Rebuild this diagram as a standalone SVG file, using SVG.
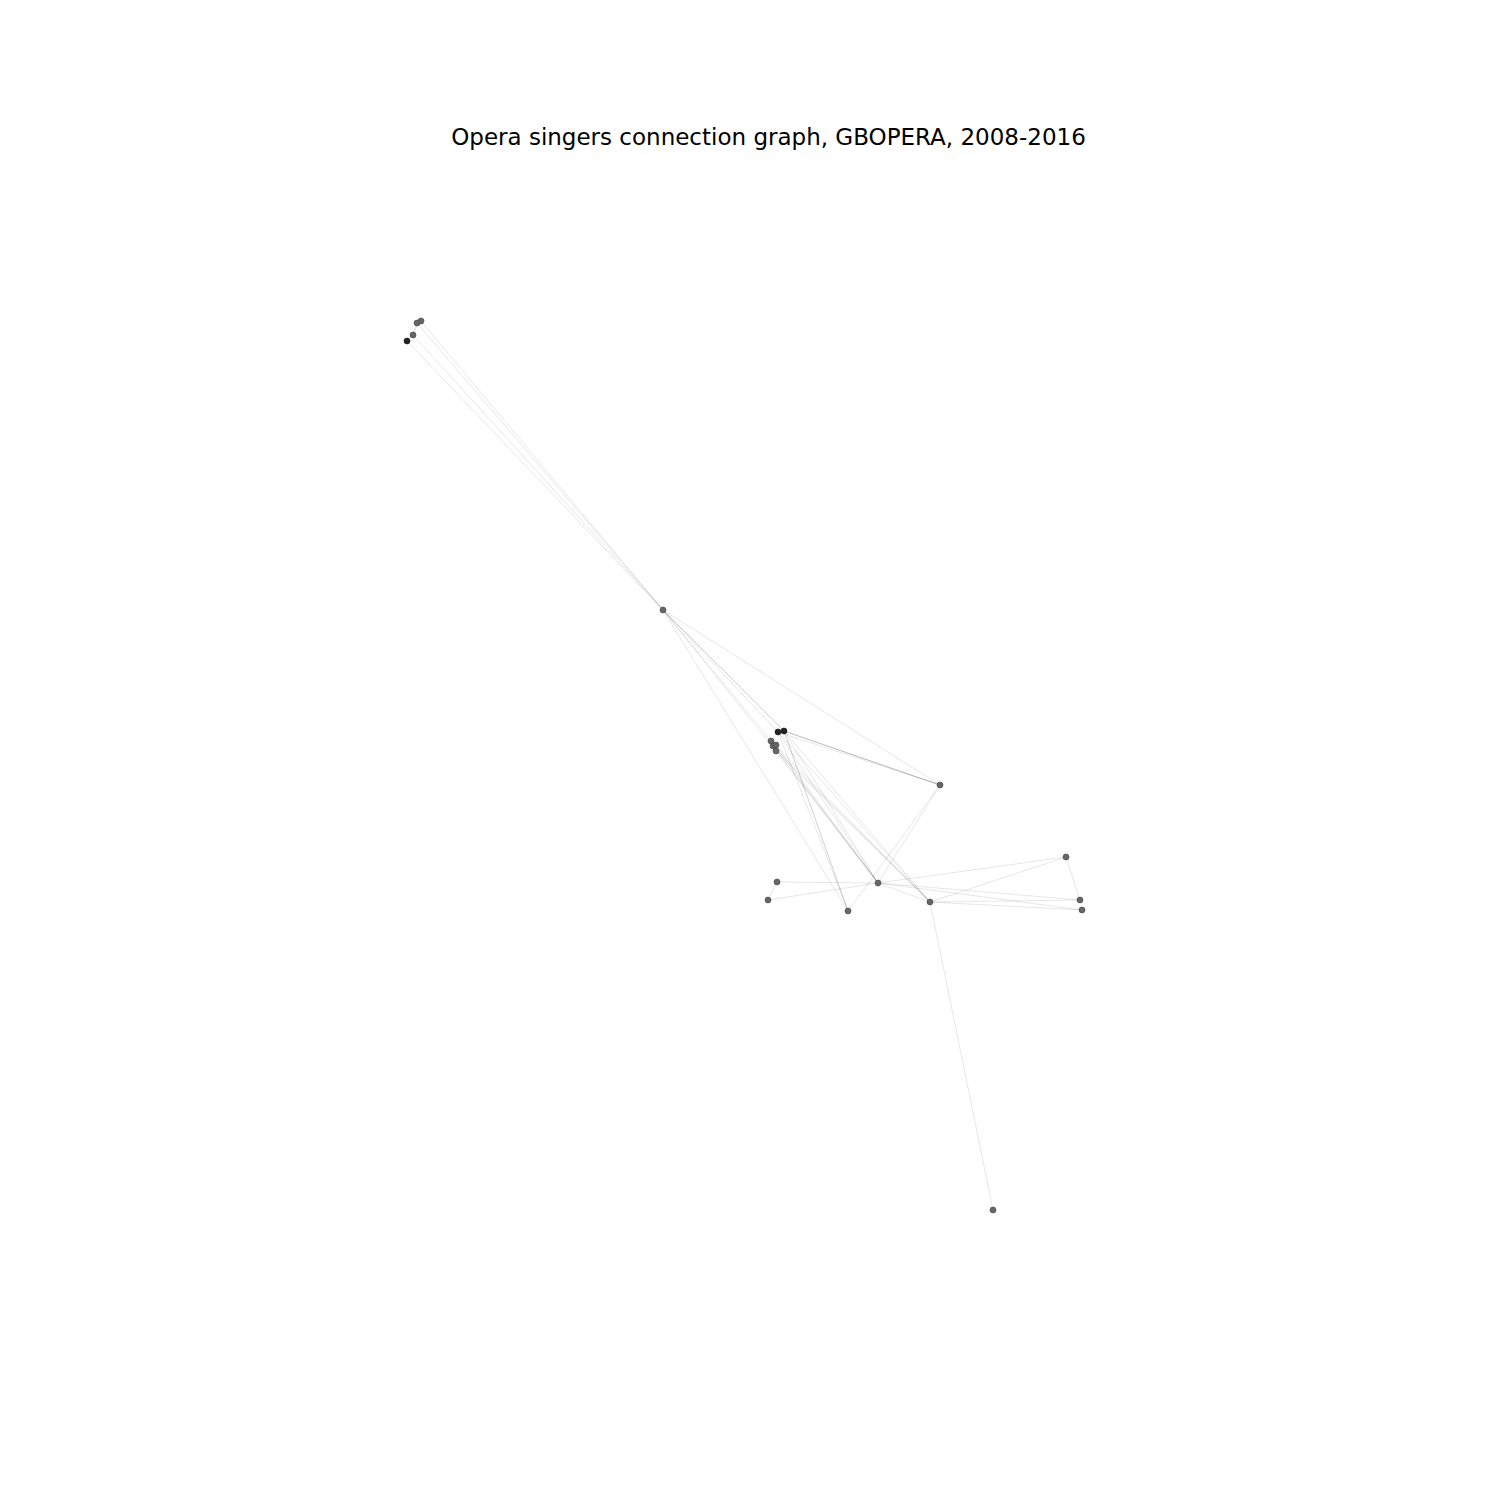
<svg xmlns="http://www.w3.org/2000/svg" width="1500" height="1500" viewBox="0 0 1500 1500">
<style>
.e{stroke:#000;stroke-opacity:0.11;stroke-width:0.9;fill:none}
.n{fill:#666;stroke:#444;stroke-width:0.6}
.d{fill:#222;stroke:#111;stroke-width:0.6}
.t{font-family:"DejaVu Sans",sans-serif;font-size:23px;fill:#000}
</style>
<rect width="1500" height="1500" fill="#fff"/>
<text class="t" x="768.5" y="145" text-anchor="middle">Opera singers connection graph, GBOPERA, 2008-2016</text>
<g id="edges">
<line class="e" x1="421" y1="321" x2="663" y2="610"/>
<line class="e" x1="417" y1="323" x2="663" y2="610"/>
<line class="e" x1="413" y1="335" x2="663" y2="610"/>
<line class="e" x1="407" y1="341" x2="663" y2="610"/>
<line class="e" x1="421" y1="321" x2="407" y2="341"/>
<line class="e" x1="417" y1="323" x2="413" y2="335"/>
<line class="e" x1="663" y1="610" x2="778" y2="732"/>
<line class="e" x1="663" y1="610" x2="784" y2="731"/>
<line class="e" x1="663" y1="610" x2="784" y2="731"/>
<line class="e" x1="663" y1="610" x2="771" y2="741"/>
<line class="e" x1="663" y1="610" x2="776" y2="751"/>
<line class="e" x1="663" y1="610" x2="940" y2="785"/>
<line class="e" x1="663" y1="610" x2="848" y2="911"/>
<line class="e" x1="778" y1="732" x2="940" y2="785"/>
<line class="e" x1="784" y1="731" x2="940" y2="785"/>
<line class="e" x1="784" y1="731" x2="940" y2="785"/>
<line class="e" x1="784" y1="731" x2="940" y2="785"/>
<line class="e" x1="778" y1="732" x2="878" y2="883"/>
<line class="e" x1="784" y1="731" x2="878" y2="883"/>
<line class="e" x1="771" y1="741" x2="878" y2="883"/>
<line class="e" x1="773" y1="746" x2="878" y2="883"/>
<line class="e" x1="776" y1="751" x2="878" y2="883"/>
<line class="e" x1="776" y1="745" x2="878" y2="883"/>
<line class="e" x1="778" y1="732" x2="848" y2="911"/>
<line class="e" x1="784" y1="731" x2="848" y2="911"/>
<line class="e" x1="784" y1="731" x2="848" y2="911"/>
<line class="e" x1="778" y1="732" x2="930" y2="902"/>
<line class="e" x1="784" y1="731" x2="930" y2="902"/>
<line class="e" x1="771" y1="741" x2="930" y2="902"/>
<line class="e" x1="773" y1="746" x2="930" y2="902"/>
<line class="e" x1="776" y1="751" x2="930" y2="902"/>
<line class="e" x1="940" y1="785" x2="878" y2="883"/>
<line class="e" x1="940" y1="785" x2="848" y2="911"/>
<line class="e" x1="777" y1="882" x2="878" y2="883"/>
<line class="e" x1="777" y1="882" x2="768" y2="900"/>
<line class="e" x1="768" y1="900" x2="878" y2="883"/>
<line class="e" x1="878" y1="883" x2="1066" y2="857"/>
<line class="e" x1="878" y1="883" x2="1080" y2="900"/>
<line class="e" x1="878" y1="883" x2="1082" y2="910"/>
<line class="e" x1="878" y1="883" x2="930" y2="902"/>
<line class="e" x1="930" y1="902" x2="1066" y2="857"/>
<line class="e" x1="930" y1="902" x2="1080" y2="900"/>
<line class="e" x1="930" y1="902" x2="1082" y2="910"/>
<line class="e" x1="1066" y1="857" x2="1080" y2="900"/>
<line class="e" x1="930" y1="902" x2="993" y2="1210"/>
</g>
<g id="n1"><circle class="n" cx="421" cy="321" r="3"/></g>
<g id="n2"><circle class="n" cx="417" cy="323" r="3"/></g>
<g id="n3"><circle class="n" cx="413" cy="335" r="3"/></g>
<g id="n4"><circle class="d" cx="407" cy="341" r="3"/></g>
<g id="n5"><circle class="n" cx="663" cy="610" r="3"/></g>
<g id="n6"><circle class="d" cx="778" cy="732" r="3"/></g>
<g id="n7"><circle class="d" cx="784" cy="731" r="3"/></g>
<g id="n8"><circle class="n" cx="771" cy="741" r="3"/></g>
<g id="n9"><circle class="n" cx="773" cy="746" r="3"/></g>
<g id="n10"><circle class="n" cx="776" cy="745" r="3"/></g>
<g id="n11"><circle class="n" cx="776" cy="751" r="3"/></g>
<g id="n12"><circle class="n" cx="940" cy="785" r="3"/></g>
<g id="n13"><circle class="n" cx="1066" cy="857" r="3"/></g>
<g id="n14"><circle class="n" cx="777" cy="882" r="3"/></g>
<g id="n15"><circle class="n" cx="768" cy="900" r="3"/></g>
<g id="n16"><circle class="n" cx="878" cy="883" r="3"/></g>
<g id="n17"><circle class="n" cx="848" cy="911" r="3"/></g>
<g id="n18"><circle class="n" cx="930" cy="902" r="3"/></g>
<g id="n19"><circle class="n" cx="1080" cy="900" r="3"/></g>
<g id="n20"><circle class="n" cx="1082" cy="910" r="3"/></g>
<g id="n21"><circle class="n" cx="993" cy="1210" r="3"/></g>
</svg>
